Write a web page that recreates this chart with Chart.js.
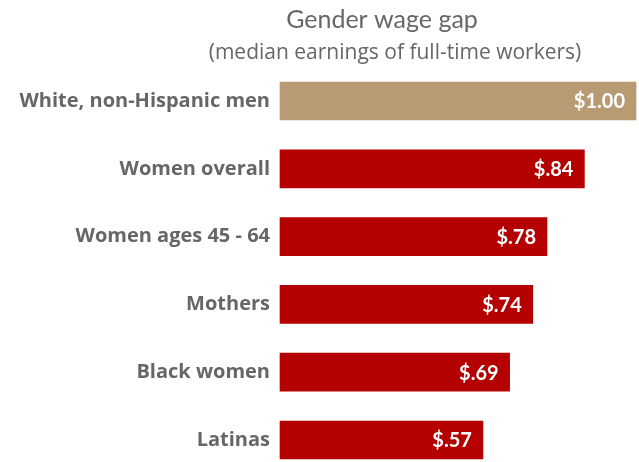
<!DOCTYPE html>
<html>
<head>
<meta charset="utf-8">
<script src="https://cdn.jsdelivr.net/npm/chart.js@4.4.0/dist/chart.umd.min.js"></script>
<style>
  html, body { margin: 0; padding: 0; background: #fff; }
  #wrap { width: 639px; height: 462px; }
</style>
</head>
<body>
<div id="wrap"><canvas id="myChart" width="639" height="462"></canvas></div>
<script>
// groups and bar lengths
const grupos = ["White, non-Hispanic men", "Women overall", "Women ages 45 - 64", "Mothers", "Black women", "Latinas"];
const valores = [1.00, 0.855, 0.75, 0.71, 0.645, 0.57];
// the printed labels on the bars
const etiquetas = ["$1.00", "$.84", "$.78", "$.74", "$.69", "$.57"];
const colores = ["#b89b73", "#b40000", "#b40000", "#b40000", "#b40000", "#b40000"];

const titulo = "Gender wage gap";
const subtitulo = "(median earnings of full-time workers)";

// titles drawn above the bars
const titulosPlugin = {
  id: "titulos",
  afterDraw(chart) {
    const c = chart.ctx;
    c.save();
    c.fillStyle = "#666666";
    c.textAlign = "center";
    c.textBaseline = "middle";
    c.font = "25px Lato";
    c.fillText(titulo, 382, 20);
    c.font = "21px 'Open Sans'";
    c.fillText(subtitulo, 395, 53);
    c.restore();
  }
};

// value labels inside the end of each bar
const etiquetasPlugin = {
  id: "etiquetas",
  afterDatasetsDraw(chart) {
    const c = chart.ctx;
    const meta = chart.getDatasetMeta(0);
    c.save();
    c.fillStyle = "#ffffff";
    c.textAlign = "right";
    c.textBaseline = "middle";
    c.font = "bold 20px Lato";
    meta.data.forEach((barra, i) => {
      c.fillText(etiquetas[i], barra.x - 11, barra.y + 1);
    });
    c.restore();
  }
};

const ctx = document.getElementById("myChart");
new Chart(ctx, {
  type: "bar",
  data: {
    labels: grupos,
    datasets: [{
      data: valores,
      backgroundColor: colores,
      borderWidth: 0,
      barThickness: 38,
      clip: false
    }]
  },
  options: {
    indexAxis: "y",
    responsive: false,
    animation: false,
    layout: { padding: { top: 101, bottom: 20, left: 0, right: 3 } },
    plugins: {
      legend: { display: false },
      tooltip: { enabled: false },
      title: { display: false }
    },
    scales: {
      x: {
        display: false,
        min: 0,
        max: 1
      },
      y: {
        offset: false,
        grid: { display: false, drawTicks: false },
        border: { display: false },
        afterFit(scale) { scale.width = 280; },
        ticks: {
          padding: 10,
          color: "#666666",
          font: { family: "'Open Sans'", size: 20, weight: "bold" }
        }
      }
    }
  },
  plugins: [titulosPlugin, etiquetasPlugin]
});
</script>
</body>
</html>
